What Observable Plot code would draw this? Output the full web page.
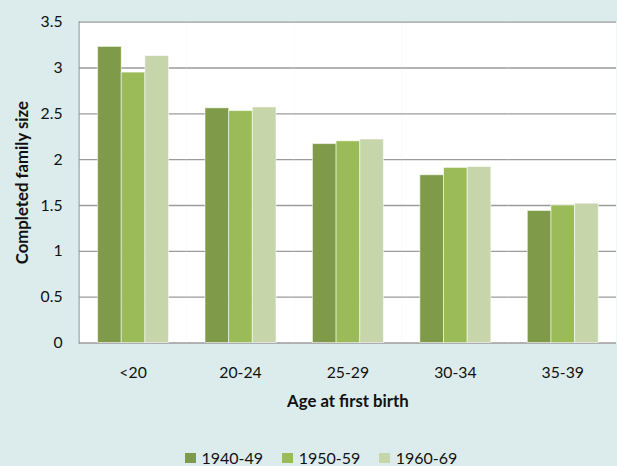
<!DOCTYPE html>
<html>
<head>
<meta charset="utf-8">
<script src="https://cdn.jsdelivr.net/npm/d3@7"></script>
<script src="https://cdn.jsdelivr.net/npm/@observablehq/plot@0.6"></script>
<style>
  html, body { margin: 0; padding: 0; overflow: hidden; background: #dcecec; }
  #wrap { position: relative; width: 617px; height: 466px; overflow: hidden; background: #dcecec; font-family: Lato, sans-serif; }
  #chart { position: absolute; left: 0; top: 0; }
  #legend { position: absolute; left: 185px; top: 450px; }
  #chart svg [aria-label="y-axis label"],
  #chart svg [aria-label="fx-axis label"],
  #chart svg [aria-label="y-axis label"] text,
  #chart svg [aria-label="fx-axis label"] text { font-weight: bold !important; font-size: 17px !important; }
  #legend .lg { display: flex; align-items: center; font: 16px/16px Lato, sans-serif; color: #111; height: 16px; }
  #legend .it { display: flex; align-items: center; margin-right: 19px; height: 16px; }
  #legend .sw { width: 10.5px; height: 10.5px; margin-right: 6px; display: inline-block; }
</style>
</head>
<body>
<div id="wrap">
  <div id="chart"></div>
  <div id="legend"></div>
</div>
<script>
// ---- data ----
const ages = ["<20", "20-24", "25-29", "30-34", "35-39"];
const cohorts = ["1940-49", "1950-59", "1960-69"];
const v1940 = [3.23, 2.56, 2.17, 1.83, 1.44];
const v1950 = [2.95, 2.53, 2.20, 1.91, 1.50];
const v1960 = [3.13, 2.57, 2.22, 1.92, 1.52];
const yTicks = [0, 0.5, 1, 1.5, 2, 2.5, 3, 3.5];
const colors = ["#7f9a48", "#9bbb59", "#c6d6aa"];

const series = [v1940, v1950, v1960];
const data = [];
ages.forEach((a, i) => cohorts.forEach((c, j) => data.push({age: a, cohort: c, value: series[j][i]})));

const chart = Plot.plot({
  width: 626,
  height: 440,
  marginLeft: 78,
  marginRight: 0,
  marginTop: 22,
  marginBottom: 92.5,
  style: {fontFamily: "Lato, sans-serif", fontSize: "16px", background: "transparent", color: "#111"},
  fx: {domain: ages, padding: 0, axis: "bottom", tickSize: 0, tickPadding: 24,
       label: "Age at first birth", labelAnchor: "center", labelOffset: 65, labelArrow: "none"},
  x: {domain: cohorts, paddingInner: 0, paddingOuter: 0.765, axis: null},
  y: {domain: [0, 3.5], ticks: yTicks, tickFormat: d => String(d), tickSize: 0, tickPadding: 17,
      label: "Completed family size", labelAnchor: "center", labelOffset: 64, labelArrow: "none", line: true},
  color: {domain: cohorts, range: colors},
  marks: [
    Plot.frame({fill: "white", stroke: null}),
    Plot.gridY(yTicks, {stroke: "#9b9b9b", strokeOpacity: 1, strokeWidth: 1.3}),
    Plot.barY(data, {fx: "age", x: "cohort", y: "value", fill: "cohort",
                     stroke: "white", strokeOpacity: 0.55, strokeWidth: 1})
  ]
});
document.getElementById("chart").appendChild(chart);

// legend
const lg = document.createElement("div");
lg.className = "lg";
cohorts.forEach((c, j) => {
  const it = document.createElement("span");
  it.className = "it";
  const sw = document.createElement("span");
  sw.className = "sw";
  sw.style.background = chart.scale("color").apply(c);
  it.appendChild(sw);
  it.appendChild(document.createTextNode(c));
  lg.appendChild(it);
});
document.getElementById("legend").appendChild(lg);
</script>
</body>
</html>
